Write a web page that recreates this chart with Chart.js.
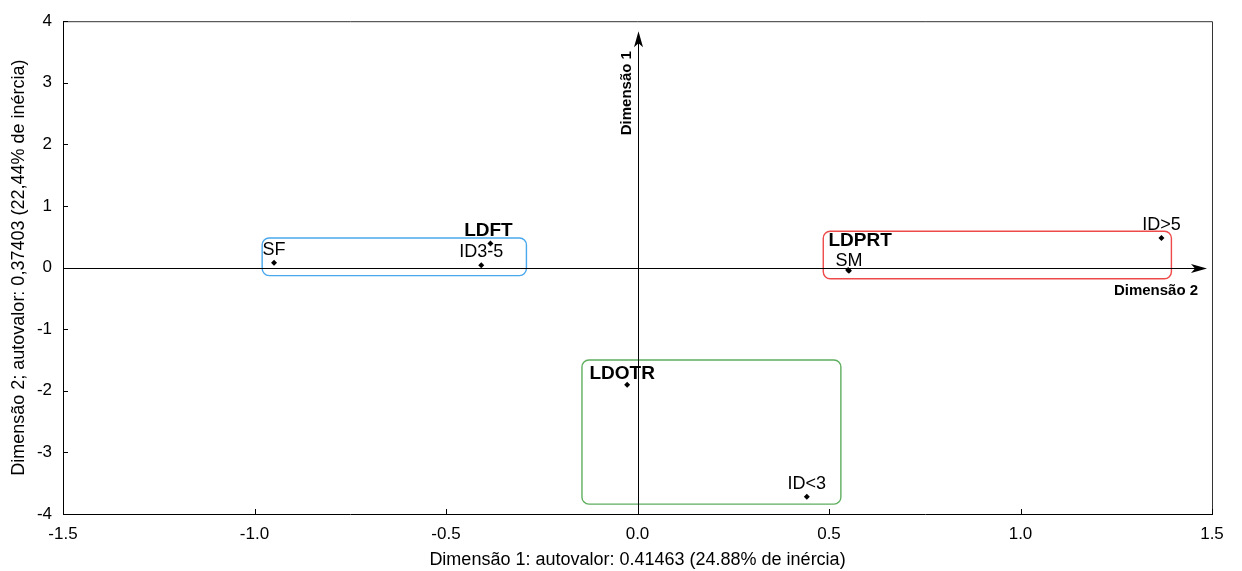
<!DOCTYPE html>
<html>
<head>
<meta charset="utf-8">
<script src="https://cdn.jsdelivr.net/npm/chart.js@4"></script>
<style>
  html, body { margin: 0; padding: 0; background: #fff; }
  #wrap { width: 1242px; height: 571px; }
</style>
</head>
<body>
<div id="wrap"><canvas id="caChart"></canvas></div>
<script>
// Correspondence analysis coordinates (row and column categories)
const pointNames = ['SF', 'LDFT', 'ID3-5', 'LDPRT', 'SM', 'ID>5', 'LDOTR', 'ID<3'];
const dim1Values = [-0.949, -0.384, -0.408, 0.55, 0.552, 1.368, -0.027, 0.442];
const dim2Values = [0.08, 0.39, 0.037, -0.04, -0.05, 0.48, -1.90, -3.72];
const boldNames = ['LDFT', 'LDPRT', 'LDOTR'];

// Group outlines in data units: [xMin, xMax, yMin, yMax]
const groupBounds = [
  [-0.98, -0.29, -0.13, 0.48],
  [0.485, 1.394, -0.18, 0.59],
  [-0.145, 0.531, -3.84, -1.50]
];
const groupColors = ['#4aa8ec', '#ef4a4a', '#5fae5f'];

const xTicks = [-1.5, -1.0, -0.5, 0.0, 0.5, 1.0, 1.5];
const yTicks = [-4, -3, -2, -1, 0, 1, 2, 3, 4];

// label nudges in px relative to the default spot above each point
const labelNudge = {
  'LDFT': [-2, 0],
  'LDPRT': [12, -16],
  'SM': [0, 3],
  'LDOTR': [-5, 2]
};

const scatterData = pointNames.map((n, i) => ({ x: dim1Values[i], y: dim2Values[i], name: n }));

const fontFamily = '"Liberation Sans", Arial, sans-serif';

// Group boxes, centre axes with arrows, frame, inward ticks and point labels
const annotatePlugin = {
  id: 'annotate',
  beforeDatasetsDraw(chart) {
    const { ctx, chartArea: a, scales: { x, y } } = chart;
    ctx.save();

    // rounded group boxes
    groupBounds.forEach((b, i) => {
      const x0 = x.getPixelForValue(b[0]), x1 = x.getPixelForValue(b[1]);
      const y0 = y.getPixelForValue(b[3]), y1 = y.getPixelForValue(b[2]);
      ctx.beginPath();
      ctx.roundRect(x0, y0, x1 - x0, y1 - y0, 7);
      ctx.strokeStyle = groupColors[i];
      ctx.lineWidth = 1.4;
      ctx.stroke();
    });

    // frame
    ctx.strokeStyle = '#333';
    ctx.lineWidth = 1;
    ctx.beginPath();
    ctx.moveTo(a.left, a.top + 0.5);
    ctx.lineTo(a.right + 0.5, a.top + 0.5);
    ctx.lineTo(a.right + 0.5, a.bottom);
    ctx.stroke();

    // inward tick marks
    ctx.strokeStyle = '#000';
    ctx.beginPath();
    xTicks.forEach(v => {
      const px = Math.round(x.getPixelForValue(v)) + 0.5;
      ctx.moveTo(px, a.bottom);
      ctx.lineTo(px, a.bottom - 5);
    });
    yTicks.forEach(v => {
      const py = Math.round(y.getPixelForValue(v)) + 0.5;
      ctx.moveTo(a.left, py);
      ctx.lineTo(a.left + 5, py);
    });
    ctx.stroke();

    // centre axes
    const x0 = Math.round(x.getPixelForValue(0)) + 0.5;
    const y0 = Math.round(y.getPixelForValue(0)) + 0.5;
    const hTip = a.right - 5;
    const vTip = a.top + 10;
    ctx.strokeStyle = '#000';
    ctx.lineWidth = 1;
    ctx.beginPath();
    ctx.moveTo(a.left, y0);
    ctx.lineTo(hTip - 4, y0);
    ctx.moveTo(x0, a.bottom);
    ctx.lineTo(x0, vTip + 4);
    ctx.stroke();

    ctx.fillStyle = '#000';
    ctx.beginPath();
    ctx.moveTo(hTip, y0);
    ctx.lineTo(hTip - 16, y0 - 4.5);
    ctx.lineTo(hTip - 12, y0);
    ctx.lineTo(hTip - 16, y0 + 4.5);
    ctx.closePath();
    ctx.fill();
    ctx.beginPath();
    ctx.moveTo(x0, vTip);
    ctx.lineTo(x0 - 4.5, vTip + 16);
    ctx.lineTo(x0, vTip + 12);
    ctx.lineTo(x0 + 4.5, vTip + 16);
    ctx.closePath();
    ctx.fill();

    // axis names on the centre axes
    ctx.font = 'bold 15px ' + fontFamily;
    ctx.textAlign = 'center';
    ctx.textBaseline = 'middle';
    ctx.fillText('Dimensão 2', hTip - 51, y0 + 22);
    ctx.save();
    ctx.translate(x0 - 12, a.top + 72);
    ctx.rotate(-Math.PI / 2);
    ctx.fillText('Dimensão 1', 0, 0);
    ctx.restore();

    ctx.restore();
  },
  afterDatasetsDraw(chart) {
    const { ctx } = chart;
    const meta = chart.getDatasetMeta(0);
    ctx.save();
    ctx.fillStyle = '#000';
    ctx.textAlign = 'center';
    ctx.textBaseline = 'middle';
    meta.data.forEach((pt, i) => {
      const name = pointNames[i];
      const nudge = labelNudge[name] || [0, 0];
      ctx.font = boldNames.includes(name)
        ? 'bold 19px ' + fontFamily
        : '18px ' + fontFamily;
      ctx.fillText(name, pt.x + nudge[0], pt.y - 13 + nudge[1]);
    });
    ctx.restore();
  }
};

new Chart(document.getElementById('caChart'), {
  type: 'scatter',
  data: {
    datasets: [{
      label: 'categorias',
      data: scatterData,
      pointStyle: 'rectRot',
      pointRadius: 3,
      pointHoverRadius: 3,
      backgroundColor: '#000',
      borderColor: '#000',
      borderWidth: 0
    }]
  },
  options: {
    responsive: true,
    maintainAspectRatio: false,
    animation: false,
    layout: { padding: { top: 16, right: 30, left: 0, bottom: 0 } },
    plugins: {
      legend: { display: false },
      tooltip: { enabled: false }
    },
    scales: {
      x: {
        type: 'linear',
        min: -1.5,
        max: 1.5,
        afterBuildTicks: s => { s.ticks = xTicks.map(v => ({ value: v })); },
        afterFit: s => { s.height = 57; },
        grid: { display: false, drawTicks: false },
        border: { display: true, color: '#000', width: 1 },
        ticks: {
          padding: 10,
          color: '#000',
          font: { family: fontFamily, size: 17 },
          callback: v => v.toFixed(1)
        },
        title: {
          display: true,
          text: 'Dimensão 1: autovalor: 0.41463 (24.88% de inércia)',
          color: '#000',
          font: { family: fontFamily, size: 18 },
          padding: { top: 0, bottom: 0 }
        }
      },
      y: {
        type: 'linear',
        min: -4,
        max: 4,
        afterBuildTicks: s => { s.ticks = yTicks.map(v => ({ value: v })); },
        afterFit: s => { s.width = 63; },
        grid: { display: false, drawTicks: false },
        border: { display: true, color: '#000', width: 1 },
        ticks: {
          padding: 11,
          color: '#000',
          font: { family: fontFamily, size: 17 },
          callback: v => String(v)
        },
        title: {
          display: true,
          text: 'Dimensão 2; autovalor: 0,37403 (22,44% de inércia)',
          color: '#000',
          font: { family: fontFamily, size: 18 },
          padding: { top: 8, bottom: 0 }
        }
      }
    }
  },
  plugins: [annotatePlugin]
});
</script>
</body>
</html>
